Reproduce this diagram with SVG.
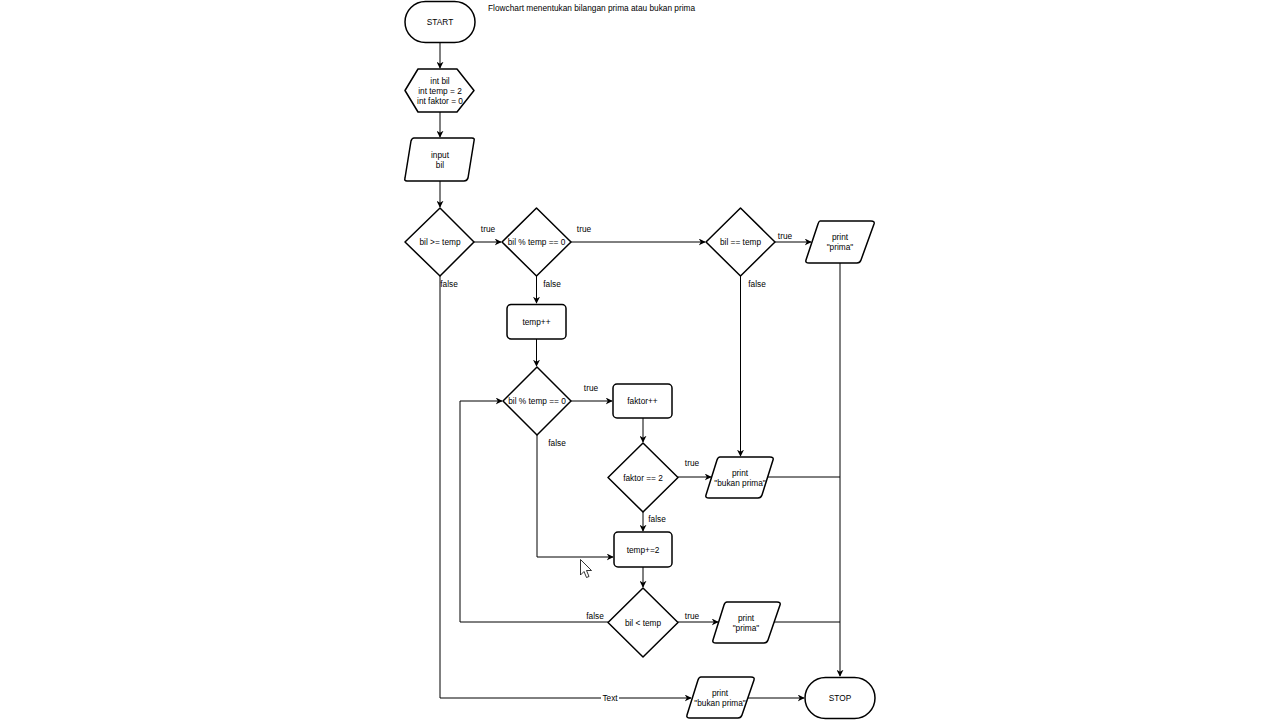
<svg xmlns="http://www.w3.org/2000/svg" width="1280" height="720" viewBox="0 0 1280 720">
<style>
.s{fill:#fff;stroke:#000;stroke-width:1.5;stroke-linejoin:round}
.c{fill:none;stroke:#000;stroke-width:1}
text{font-family:"Liberation Sans",Arial,sans-serif;font-size:8.3px;fill:#000}
.m{text-anchor:middle}
</style>
<defs>
<marker id="a" viewBox="0 0 10 10" refX="9" refY="5" markerWidth="7" markerHeight="7" markerUnits="userSpaceOnUse" orient="auto">
<path d="M0,0 L10,5 L0,10 L3,5 Z" fill="#000"/>
</marker>
</defs>
<rect width="1280" height="720" fill="#fff"/>
<text x="488" y="11">Flowchart menentukan bilangan prima atau bukan prima</text>

<g id="connectors">
<path class="c" d="M440,43 V68" marker-end="url(#a)"/>
<path class="c" d="M440,112 V137" marker-end="url(#a)"/>
<path class="c" d="M440,181 V207" marker-end="url(#a)"/>
<path class="c" d="M474,242 H501" marker-end="url(#a)"/>
<path class="c" d="M571,242 H705" marker-end="url(#a)"/>
<path class="c" d="M775,242 H811" marker-end="url(#a)"/>
<path class="c" d="M536.5,276 V303" marker-end="url(#a)"/>
<path class="c" d="M536.5,339 V366" marker-end="url(#a)"/>
<path class="c" d="M571,401 H612" marker-end="url(#a)"/>
<path class="c" d="M643,418 V442" marker-end="url(#a)"/>
<path class="c" d="M678,477 H711" marker-end="url(#a)"/>
<path class="c" d="M643,512 V531" marker-end="url(#a)"/>
<path class="c" d="M537,435 V557 H613" marker-end="url(#a)"/>
<path class="c" d="M643,567 V587" marker-end="url(#a)"/>
<path class="c" d="M608,622 H460 V401 H502" marker-end="url(#a)"/>
<path class="c" d="M678,622 H718" marker-end="url(#a)"/>
<path class="c" d="M740.5,276 V456" marker-end="url(#a)"/>
<path class="c" d="M840,263 V676" marker-end="url(#a)"/>
<path class="c" d="M767,477 H840"/>
<path class="c" d="M774,622 H840"/>
<path class="c" d="M440,276 V698 H691" marker-end="url(#a)"/>
<path class="c" d="M746,698 H804" marker-end="url(#a)"/>
<rect x="601" y="693" width="18" height="10" fill="#fff"/>
<text class="m" x="610" y="701">Text</text>
<text class="m" x="488" y="232">true</text>
<text class="m" x="584" y="232">true</text>
<text class="m" x="785" y="239">true</text>
<text class="m" x="449" y="287">false</text>
<text class="m" x="552" y="287">false</text>
<text class="m" x="757" y="287">false</text>
<text class="m" x="591" y="391">true</text>
<text class="m" x="557" y="446">false</text>
<text class="m" x="692" y="466">true</text>
<text class="m" x="657" y="522">false</text>
<text class="m" x="595" y="619">false</text>
<text class="m" x="692" y="619">true</text>
</g>

<g id="start">
<rect class="s" x="405" y="1.5" width="70" height="41" rx="20.5"/>
<text class="m" x="440" y="25">START</text>
</g>
<g id="init">
<polygon class="s" points="418,69 457,69 474,90.5 457,112 418,112 405,90.5"/>
<text class="m" x="440" y="84">int bil</text>
<text class="m" x="440" y="94">int temp = 2</text>
<text class="m" x="440" y="104">int faktor = 0</text>
</g>
<g id="input">
<path class="s" d="M414,138 H472 Q475,138 474,141 L468,178 Q467,181 464,181 H407 Q404,181 405,178 L411,141 Q412,138 414,138 Z"/>
<text class="m" x="440" y="158">input</text>
<text class="m" x="440" y="168">bil</text>
</g>
<g id="d1">
<polygon class="s" points="440,208 474,242 440,276 405,242"/>
<text class="m" x="440" y="245">bil &gt;= temp</text>
</g>
<g id="d2">
<polygon class="s" points="536.5,208 571,242 536.5,276 502,242"/>
<text class="m" x="536.5" y="245">bil % temp == 0</text>
</g>
<g id="d3">
<polygon class="s" points="740.5,208 775,242 740.5,276 706,242"/>
<text class="m" x="740.5" y="245">bil == temp</text>
</g>
<g id="print-prima-1">
<path class="s" d="M820,221 H871 Q875,221 874,224 L861,260 Q860,263 857,263 H809 Q805,263 806,260 L818,224 Q819,221 820,221 Z"/>
<text class="m" x="840" y="240">print</text>
<text class="m" x="840" y="250">"prima"</text>
</g>
<g id="temp-inc">
<rect class="s" x="507" y="304.5" width="59" height="34.5" rx="4"/>
<text class="m" x="536.5" y="325">temp++</text>
</g>
<g id="d4">
<polygon class="s" points="537,367 571,401 537,435 503,401"/>
<text class="m" x="537" y="404">bil % temp == 0</text>
</g>
<g id="faktor-inc">
<rect class="s" x="613" y="384" width="59" height="34" rx="4"/>
<text class="m" x="642.5" y="404">faktor++</text>
</g>
<g id="d5">
<polygon class="s" points="643,443 678,477.5 643,512 608,477.5"/>
<text class="m" x="643" y="480.5">faktor == 2</text>
</g>
<g id="print-bukan-1">
<path class="s" d="M720,457 H770 Q774,457 773,460 L762,495 Q761,498 758,498 H709 Q705,498 706,495 L717,460 Q718,457 720,457 Z"/>
<text class="m" x="740" y="476">print</text>
<text class="m" x="740" y="486">"bukan prima"</text>
</g>
<g id="temp-add2">
<rect class="s" x="614" y="532" width="58" height="35" rx="4"/>
<text class="m" x="643" y="552.5">temp+=2</text>
</g>
<g id="d6">
<polygon class="s" points="643,588 678,622.5 643,657 608,622.5"/>
<text class="m" x="643" y="625.5">bil &lt; temp</text>
</g>
<g id="print-prima-2">
<path class="s" d="M727,602 H777 Q781,602 780,605 L768,640 Q767,643 764,643 H716 Q712,643 713,640 L724,605 Q725,602 727,602 Z"/>
<text class="m" x="746" y="621">print</text>
<text class="m" x="746" y="631">"prima"</text>
</g>
<g id="print-bukan-2">
<path class="s" d="M701,677 H751 Q755,677 754,680 L742,715 Q741,718 738,718 H690 Q686,718 687,715 L698,680 Q699,677 701,677 Z"/>
<text class="m" x="720" y="696">print</text>
<text class="m" x="720" y="706">"bukan prima"</text>
</g>
<g id="stop">
<rect class="s" x="805" y="677.5" width="70" height="41" rx="20.5"/>
<text class="m" x="840" y="701">STOP</text>
</g>
<g id="cursor">
<path d="M580.5,559.5 V575 L584,571.5 L586.5,577.5 L589,576.5 L586.5,570.5 L591.5,570.5 Z" fill="#fff" stroke="#000" stroke-width="0.8" stroke-linejoin="round"/>
</g>
</svg>
